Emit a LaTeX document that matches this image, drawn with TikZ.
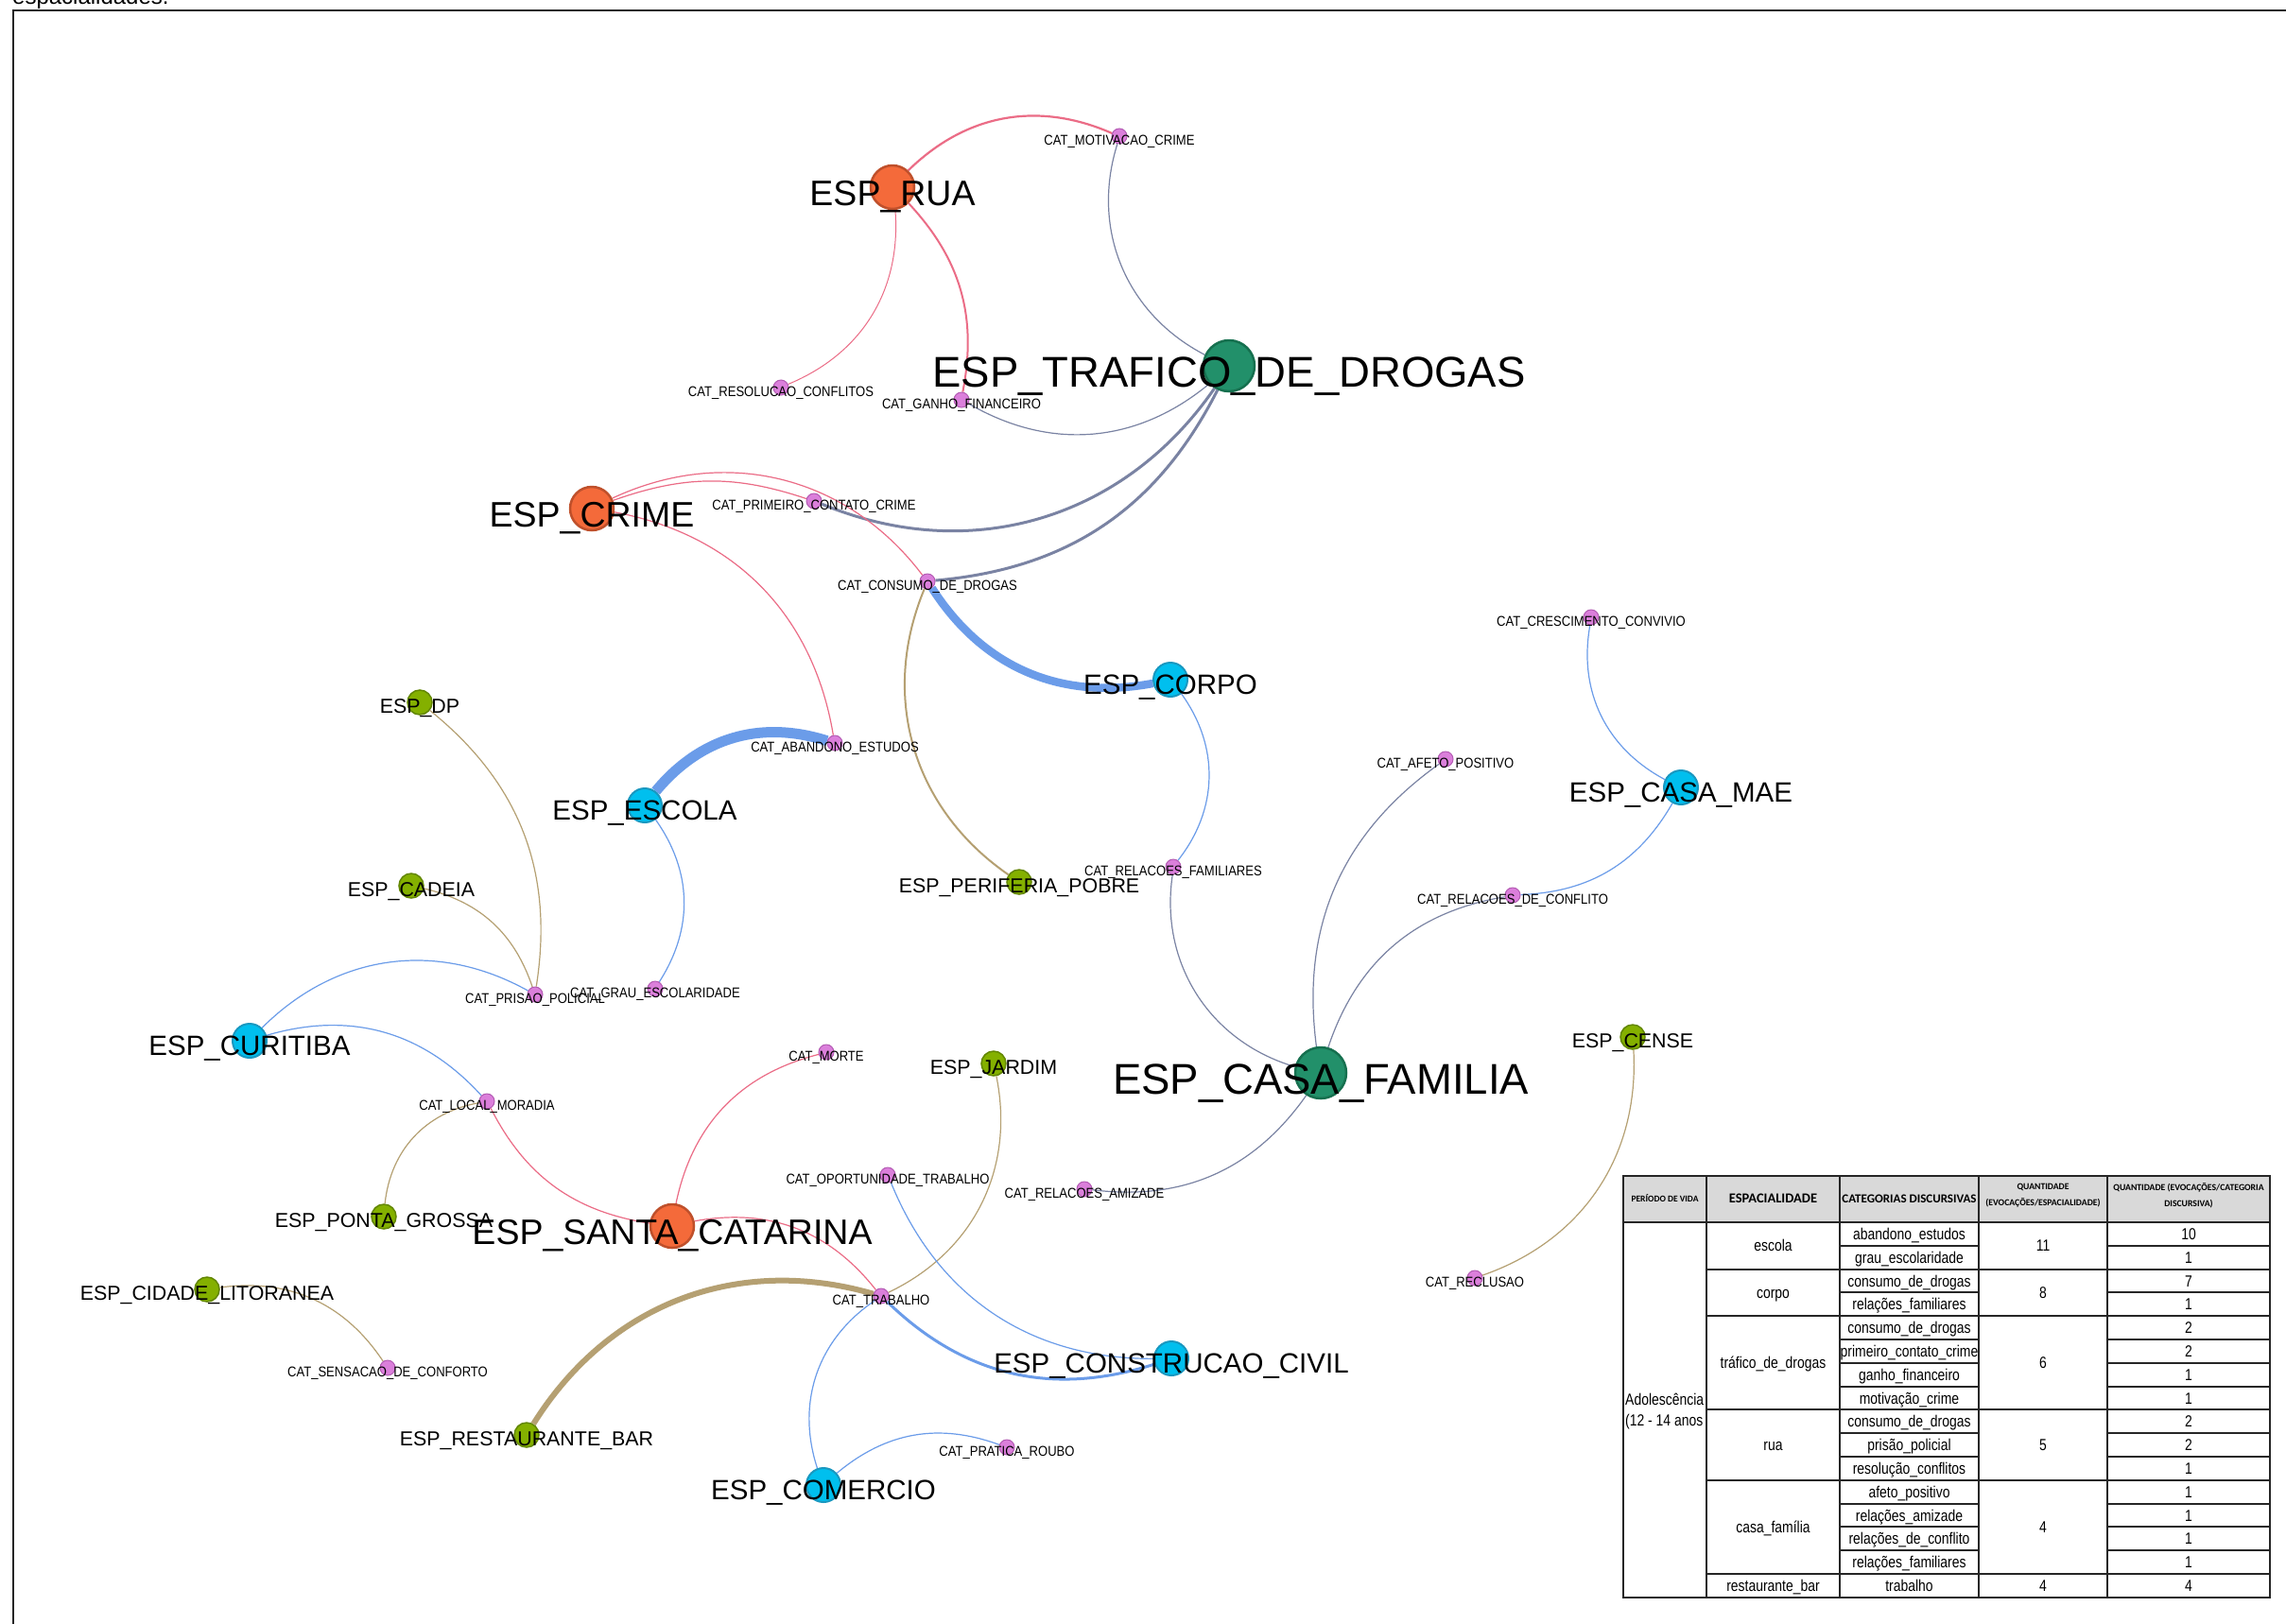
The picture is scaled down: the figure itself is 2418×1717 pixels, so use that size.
\documentclass[tikz,border=0pt]{standalone}
\usepackage{fontspec}
\setmainfont{Liberation Sans}
\newfontfamily\catfont[FakeStretch=0.87]{Liberation Sans}
\newfontfamily\tabfont[FakeStretch=0.82]{Liberation Sans}
\newfontfamily\headfont{Carlito}

\definecolor{espGreen}{HTML}{22906A}
\definecolor{espGreenD}{HTML}{16704F}
\definecolor{espOrange}{HTML}{F46A3A}
\definecolor{espOrangeD}{HTML}{BF502B}
\definecolor{espCyan}{HTML}{00BFEE}
\definecolor{espCyanD}{HTML}{1A98C0}
\definecolor{espOlive}{HTML}{84B000}
\definecolor{espOliveD}{HTML}{628600}
\definecolor{catPink}{HTML}{DB7FDB}
\definecolor{catPinkD}{HTML}{B35BB3}
\definecolor{edgePink}{HTML}{EB6C86}
\definecolor{edgeGrey}{HTML}{7A83A3}
\definecolor{edgeBlue}{HTML}{6B9CE9}
\definecolor{edgeTan}{HTML}{B5A072}
\definecolor{headGray}{HTML}{D9D9D9}

\pgfdeclarelayer{bglayer}
\pgfdeclarelayer{edgelayer}
\pgfsetlayers{bglayer,edgelayer,main}

\tikzset{
  espG/.style={circle, inner sep=0pt, minimum size=54pt, fill=espGreen, draw=espGreenD, line width=2.5pt},
  espO/.style={circle, inner sep=0pt, minimum size=46pt, fill=espOrange, draw=espOrangeD, line width=2.5pt},
  espC/.style={circle, inner sep=0pt, minimum size=36pt, fill=espCyan, draw=espCyanD, line width=2pt},
  espL/.style={circle, inner sep=0pt, minimum size=26pt, fill=espOlive, draw=espOliveD, line width=1.5pt},
  catdot/.style={circle, inner sep=0pt, minimum size=16pt, fill=catPink, draw=catPinkD, line width=1pt},
  lab/.style={anchor=base, inner sep=0pt, text=black},
  labG/.style={lab, font=\fontsize{45.5}{46}\selectfont},
  labO/.style={lab, font=\fontsize{37.5}{38}\selectfont},
  labC/.style={lab, font=\fontsize{29.5}{30}\selectfont},
  labL/.style={lab, font=\fontsize{21.4}{22}\selectfont},
  labcat/.style={lab, font=\catfont\fontsize{15}{15}\selectfont},
  epink/.style={draw=edgePink},
  egrey/.style={draw=edgeGrey},
  eblue/.style={draw=edgeBlue},
  etan/.style={draw=edgeTan},
  thin1/.style={line width=1.2pt},
  tabtxt/.style={inner sep=0pt, anchor=base, font=\tabfont\fontsize{17}{17}\selectfont},
  tabhead/.style={inner sep=0pt, align=center, font=\headfont\bfseries\fontsize{#1}{17}\selectfont},
  rule/.style={line width=2pt, draw=black!85}
}

\begin{document}
\begin{tikzpicture}[x=1pt,y=1pt]
\useasboundingbox (0,0) rectangle (2418,-1717);
\begin{pgfonlayer}{bglayer}
\fill[white] (0,0) rectangle (2418,-1717);
\end{pgfonlayer}

% caption line running off the top edge, and the frame
\node[anchor=base west, inner sep=0pt, font=\fontsize{24}{24}\selectfont] (topnote) at (13,-4) {espacialidades.};
\draw[line width=2.6pt, black!85] (14,-1740) -- (14,-11) -- (2440,-11);

% ---------- spatiality nodes ----------
\node[espO] (rua)         at (944,-198)   {};
\node[espG] (trafico)     at (1300,-387)  {};
\node[espO] (crime)       at (626,-538)   {};
\node[espC] (corpo)       at (1238,-719)  {};
\node[espC] (escola)      at (682,-852)   {};
\node[espL] (dp)          at (444,-743)   {};
\node[espL] (cadeia)      at (435,-937)   {};
\node[espL] (periferia)   at (1078,-933)  {};
\node[espC] (casamae)     at (1778,-833)  {};
\node[espC] (curitiba)    at (264,-1101)  {};
\node[espG] (casafam)     at (1397,-1135) {};
\node[espL] (jardim)      at (1051,-1125) {};
\node[espL] (cense)       at (1727,-1097) {};
\node[espL] (pontagrossa) at (406,-1287)  {};
\node[espO] (santacat)    at (711,-1297)  {};
\node[espL] (cidlit)      at (219,-1364)  {};
\node[espL] (restbar)     at (557,-1518)  {};
\node[espC] (comercio)    at (871,-1571)  {};
\node[espC] (construcao)  at (1239,-1437) {};

% ---------- category nodes ----------
\node[catdot] (motiv)    at (1184,-144)  {};
\node[catdot] (resol)    at (826,-410)   {};
\node[catdot] (ganho)    at (1017,-423)  {};
\node[catdot] (primeiro) at (861,-530)   {};
\node[catdot] (consumo)  at (981,-615)   {};
\node[catdot] (abandono) at (883,-786)   {};
\node[catdot] (grau)     at (693,-1046)  {};
\node[catdot] (prisao)   at (566,-1052)  {};
\node[catdot] (relfam)   at (1241,-917)  {};
\node[catdot] (afeto)    at (1529,-803)  {};
\node[catdot] (cresc)    at (1683,-653)  {};
\node[catdot] (relconf)  at (1600,-947)  {};
\node[catdot] (reclusao) at (1560,-1352) {};
\node[catdot] (morte)    at (874,-1113)  {};
\node[catdot] (localmor) at (515,-1165)  {};
\node[catdot] (oport)    at (939,-1243)  {};
\node[catdot] (amizade)  at (1147,-1258) {};
\node[catdot] (trabalho) at (932,-1371)  {};
\node[catdot] (sensacao) at (410,-1447)  {};
\node[catdot] (pratica)  at (1065,-1531) {};

% ---------- links (drawn beneath the nodes) ----------
\begin{pgfonlayer}{edgelayer}
\draw[epink, line width=2.2pt] (rua) to[bend left=34] (motiv);
\draw[epink, line width=1pt]   (rua) to[bend left=36] (resol);
\draw[epink, line width=2pt]   (rua) to[bend left=27] (ganho);
\draw[egrey, thin1] (trafico) to[bend left=40] (motiv);
\draw[egrey, thin1] (trafico) to[bend left=35] (ganho);
\draw[egrey, line width=3pt] (trafico) to[bend left=39] (primeiro);
\draw[egrey, line width=3pt] (trafico) to[bend left=29] (consumo);
\draw[epink, thin1] (crime) to[bend left=19] (primeiro);
\draw[epink, thin1] (crime) to[bend left=39] (consumo);
\draw[epink, thin1] (crime) to[bend left=35] (abandono);
\draw[eblue, line width=8.5pt] (corpo) to[bend left=34] (consumo);
\draw[eblue, thin1] (corpo) to[bend left=37] (relfam);
\draw[eblue, line width=11pt] (escola) to[bend left=34] (abandono);
\draw[eblue, thin1] (escola) to[bend left=34] (grau);
\draw[etan, thin1] (dp) to[bend left=30] (prisao);
\draw[etan, thin1] (cadeia) to[bend left=29] (prisao);
\draw[etan, line width=2pt] (periferia) to[bend left=39] (consumo);
\draw[eblue, thin1] (curitiba) to[bend left=37] (prisao);
\draw[eblue, thin1] (curitiba) to[bend left=32] (localmor);
\draw[epink, thin1] (santacat) to[bend left=27] (localmor);
\draw[epink, thin1] (santacat) to[bend left=32] (morte);
\draw[epink, thin1] (santacat) to[bend left=31] (trabalho);
\draw[etan, thin1] (pontagrossa) to[bend left=37] (localmor);
\draw[etan, thin1] (cidlit) to[bend left=32] (sensacao);
\draw[etan, line width=6pt] (restbar) to[bend left=37] (trabalho);
\draw[etan, thin1] (jardim) to[bend left=38] (trabalho);
\draw[eblue, thin1] (comercio) to[bend left=37] (trabalho);
\draw[eblue, thin1] (comercio) to[bend left=30] (pratica);
\draw[eblue, line width=3pt] (construcao) to[bend left=31] (trabalho);
\draw[eblue, thin1] (construcao) to[bend left=34] (oport);
\draw[egrey, thin1] (casafam) to[bend left=41] (relfam);
\draw[egrey, thin1] (casafam) to[bend left=31] (afeto);
\draw[egrey, thin1] (casafam) to[bend left=31] (relconf);
\draw[egrey, thin1] (casafam) to[bend left=31] (amizade);
\draw[eblue, thin1] (casamae) to[bend left=36] (cresc);
\draw[eblue, thin1] (casamae) to[bend left=29] (relconf);
\draw[etan, thin1] (cense) to[bend left=37] (reclusao);
\end{pgfonlayer}

% ---------- spatiality labels ----------
\node[labO] (rua-l)         at ([yshift=-19pt]rua.center)         {ESP\_RUA};
\node[labG] (trafico-l)     at ([yshift=-22pt]trafico.center)     {ESP\_TRAFICO\_DE\_DROGAS};
\node[labO] (crime-l)       at ([yshift=-19pt]crime.center)       {ESP\_CRIME};
\node[labC] (corpo-l)       at ([yshift=-15.5pt]corpo.center)     {ESP\_CORPO};
\node[labC] (escola-l)      at ([yshift=-15.5pt]escola.center)    {ESP\_ESCOLA};
\node[labL] (dp-l)          at ([yshift=-11pt]dp.center)          {ESP\_DP};
\node[labL] (cadeia-l)      at ([yshift=-11pt]cadeia.center)      {ESP\_CADEIA};
\node[labL] (periferia-l)   at ([yshift=-11pt]periferia.center)   {ESP\_PERIFERIA\_POBRE};
\node[labC] (casamae-l)     at ([yshift=-15.5pt]casamae.center)   {ESP\_CASA\_MAE};
\node[labC] (curitiba-l)    at ([yshift=-15.5pt]curitiba.center)  {ESP\_CURITIBA};
\node[labG] (casafam-l)     at ([yshift=-22pt]casafam.center)     {ESP\_CASA\_FAMILIA};
\node[labL] (jardim-l)      at ([yshift=-11pt]jardim.center)      {ESP\_JARDIM};
\node[labL] (cense-l)       at ([yshift=-11pt]cense.center)       {ESP\_CENSE};
\node[labL] (pontagrossa-l) at ([yshift=-11pt]pontagrossa.center) {ESP\_PONTA\_GROSSA};
\node[labO] (santacat-l)    at ([yshift=-19pt]santacat.center)    {ESP\_SANTA\_CATARINA};
\node[labL] (cidlit-l)      at ([yshift=-11pt]cidlit.center)      {ESP\_CIDADE\_LITORANEA};
\node[labL] (restbar-l)     at ([yshift=-11pt]restbar.center)     {ESP\_RESTAURANTE\_BAR};
\node[labC] (comercio-l)    at ([yshift=-15.5pt]comercio.center)  {ESP\_COMERCIO};
\node[labC] (construcao-l)  at ([yshift=-15.5pt]construcao.center){ESP\_CONSTRUCAO\_CIVIL};

% ---------- category labels ----------
\node[labcat] (motiv-l)    at ([yshift=-9pt]motiv.center)    {CAT\_MOTIVACAO\_CRIME};
\node[labcat] (resol-l)    at ([yshift=-9pt]resol.center)    {CAT\_RESOLUCAO\_CONFLITOS};
\node[labcat] (ganho-l)    at ([yshift=-9pt]ganho.center)    {CAT\_GANHO\_FINANCEIRO};
\node[labcat] (primeiro-l) at ([yshift=-9pt]primeiro.center) {CAT\_PRIMEIRO\_CONTATO\_CRIME};
\node[labcat] (consumo-l)  at ([yshift=-9pt]consumo.center)  {CAT\_CONSUMO\_DE\_DROGAS};
\node[labcat] (abandono-l) at ([yshift=-9pt]abandono.center) {CAT\_ABANDONO\_ESTUDOS};
\node[labcat] (grau-l)     at ([yshift=-9pt]grau.center)     {CAT\_GRAU\_ESCOLARIDADE};
\node[labcat] (prisao-l)   at ([yshift=-9pt]prisao.center)   {CAT\_PRISAO\_POLICIAL};
\node[labcat] (relfam-l)   at ([yshift=-9pt]relfam.center)   {CAT\_RELACOES\_FAMILIARES};
\node[labcat] (afeto-l)    at ([yshift=-9pt]afeto.center)    {CAT\_AFETO\_POSITIVO};
\node[labcat] (cresc-l)    at ([yshift=-9pt]cresc.center)    {CAT\_CRESCIMENTO\_CONVIVIO};
\node[labcat] (relconf-l)  at ([yshift=-9pt]relconf.center)  {CAT\_RELACOES\_DE\_CONFLITO};
\node[labcat] (reclusao-l) at ([yshift=-9pt]reclusao.center) {CAT\_RECLUSAO};
\node[labcat] (morte-l)    at ([yshift=-9pt]morte.center)    {CAT\_MORTE};
\node[labcat] (localmor-l) at ([yshift=-9pt]localmor.center) {CAT\_LOCAL\_MORADIA};
\node[labcat] (oport-l)    at ([yshift=-9pt]oport.center)    {CAT\_OPORTUNIDADE\_TRABALHO};
\node[labcat] (amizade-l)  at ([yshift=-9pt]amizade.center)  {CAT\_RELACOES\_AMIZADE};
\node[labcat] (trabalho-l) at ([yshift=-9pt]trabalho.center) {CAT\_TRABALHO};
\node[labcat] (sensacao-l) at ([yshift=-9pt]sensacao.center) {CAT\_SENSACAO\_DE\_CONFORTO};
\node[labcat] (pratica-l)  at ([yshift=-9pt]pratica.center)  {CAT\_PRATICA\_ROUBO};

% ---------- summary table ----------
% columns: 1717 | 1805 | 1946 | 2093 | 2229 | 2401 ; header 1244-1293 ; 16 rows of 24.8
\fill[headGray] (1717,-1244) rectangle (2401,-1293);
\node[tabhead=9.5]  (h1) at (1761,-1268)   {PERÍODO DE VIDA};
\node[tabhead=14.5] (h2) at (1875.5,-1268) {ESPACIALIDADE};
\node[tabhead=13]   (h3) at (2019.5,-1268) {CATEGORIAS DISCURSIVAS};
\node[tabhead=9.7]  (h4) at (2161,-1265)   {QUANTIDADE\\(EVOCAÇÕES/ESPACIALIDADE)};
\node[tabhead=9.7]  (h5) at (2315,-1265)   {QUANTIDADE (EVOCAÇÕES/CATEGORIA\\DISCURSIVA)};

\node[tabtxt, anchor=base west] (per1) at (1719,-1486) {Adolescência};
\node[tabtxt, anchor=base west] (per2) at (1719,-1508) {(12 - 14 anos};

\foreach \i/\cat/\n in {1/abandono\_estudos/10, 2/grau\_escolaridade/1,
    3/consumo\_de\_drogas/7, 4/relações\_familiares/1,
    5/consumo\_de\_drogas/2, 6/primeiro\_contato\_crime/2,
    7/ganho\_financeiro/1, 8/motivação\_crime/1,
    9/consumo\_de\_drogas/2, 10/prisão\_policial/2,
    11/resolução\_conflitos/1, 12/afeto\_positivo/1,
    13/relações\_amizade/1, 14/relações\_de\_conflito/1,
    15/relações\_familiares/1, 16/trabalho/4}{
  \node[tabtxt] (cat\i) at (2019.5,{-1293-(\i-0.5)*24.8-6}) {\cat};
  \node[tabtxt] (num\i) at (2315,{-1293-(\i-0.5)*24.8-6}) {\n};
}
\foreach \a/\b/\esp/\q [count=\k] in {0/2/escola/11, 2/4/corpo/8, 4/8/tráfico\_de\_drogas/6,
    8/11/rua/5, 11/15/casa\_família/4, 15/16/restaurante\_bar/4}{
  \node[tabtxt] (esp\k) at (1875.5,{-1293-(\a+\b)/2*24.8-6}) {\esp};
  \node[tabtxt] (qtd\k) at (2161,{-1293-(\a+\b)/2*24.8-6}) {\q};
}

\draw[rule] (1717,-1244) rectangle (2401,-1689.8);
\foreach \x in {1805,1946,2093,2229} \draw[rule] (\x,-1244) -- (\x,-1689.8);
\draw[rule] (1717,-1293) -- (2401,-1293);
\foreach \i in {1,...,15}{
  \draw[rule] (1946,{-1293-\i*24.8}) -- (2093,{-1293-\i*24.8});
  \draw[rule] (2229,{-1293-\i*24.8}) -- (2401,{-1293-\i*24.8});
}
\foreach \i in {2,4,8,11,15} \draw[rule] (1805,{-1293-\i*24.8}) -- (2401,{-1293-\i*24.8});
\end{tikzpicture}
\end{document}
